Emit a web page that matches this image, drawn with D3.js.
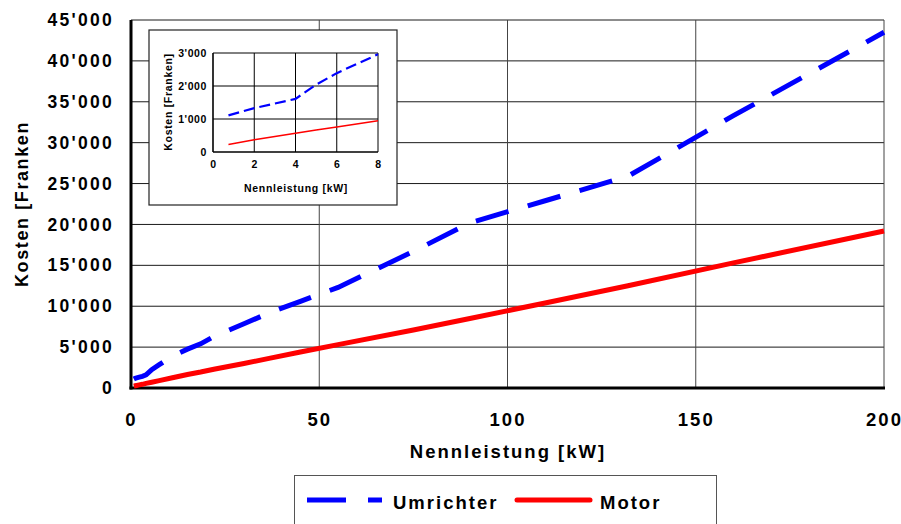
<!DOCTYPE html>
<html>
<head>
<meta charset="utf-8">
<script src="https://cdn.jsdelivr.net/npm/d3@7"></script>
<style>
  body { margin: 0; background: #fff; }
  svg { display: block; }
  text { font-family: "Liberation Sans", Arial, sans-serif; font-weight: bold; fill: #000; }
</style>
</head>
<body>
<div id="chart"></div>
<script>
// Nennleistung [kW] (standard motor sizes)
const leistung = [0.75, 1.1, 1.5, 2.2, 3, 4, 5.5, 7.5, 11, 15, 18.5, 22, 30, 37, 45, 55, 75, 90, 110, 132, 160, 200];
// Kosten [Franken]
const umrichter = [1100, 1180, 1240, 1330, 1430, 1600, 2250, 2850, 3900, 4750, 5400, 6300, 7850, 9250, 10600, 12300, 16700, 20200, 22900, 25900, 33300, 43500];
const motor = [230, 270, 310, 380, 450, 560, 700, 900, 1250, 1650, 1950, 2300, 3000, 3650, 4400, 5300, 7100, 8500, 10400, 12500, 15300, 19200];

// inset (0..8 kW)
const leistungInset = [0.75, 2, 4, 5, 6, 8];
const umrichterInset = [1110, 1330, 1610, 2040, 2390, 2960];
const motorInset = [230, 370, 570, 670, 760, 950];

const xTicks = [0, 50, 100, 150, 200];
const yTicks = [0, 5000, 10000, 15000, 20000, 25000, 30000, 35000, 40000, 45000];
const xTicksInset = [0, 2, 4, 6, 8];
const yTicksInset = [0, 1000, 2000, 3000];

const W = 901, H = 524;
const loc = d3.formatLocale({ decimal: ".", thousands: "'", grouping: [3], currency: ["", ""] });
const fmt = loc.format(",d");

const svg = d3.select("#chart").append("svg").attr("width", W).attr("height", H);

// ---------- main plot ----------
const x = d3.scaleLinear().domain([0, 200]).range([131, 884]);
const y = d3.scaleLinear().domain([0, 45000]).range([388, 20]);

const rows = leistung.map((p, i) => ({ p: p, u: umrichter[i], m: motor[i] }));

// grid
svg.append("g").selectAll("line").data(yTicks.slice(1)).join("line")
  .attr("x1", x(0)).attr("x2", x(200))
  .attr("y1", d => y(d)).attr("y2", d => y(d))
  .attr("stroke", "#1a1a1a").attr("stroke-width", 1);
svg.append("g").selectAll("line").data(xTicks.slice(1)).join("line")
  .attr("x1", d => x(d)).attr("x2", d => x(d))
  .attr("y1", y(0)).attr("y2", y(45000))
  .attr("stroke", "#444").attr("stroke-width", 1);

// axes (labels only, lines drawn thick below)
const yAxis = svg.append("g").attr("transform", `translate(${x(0)},0)`)
  .call(d3.axisLeft(y).tickValues(yTicks).tickFormat(fmt).tickSize(0).tickPadding(17));
yAxis.select(".domain").remove();
yAxis.selectAll("text").attr("font-size", 17.5).attr("letter-spacing", 2.3)
  .attr("font-family", "Liberation Sans, Arial, sans-serif").attr("font-weight", "bold").attr("fill", "#000");

const xAxis = svg.append("g").attr("transform", `translate(0,${y(0)})`)
  .call(d3.axisBottom(x).tickValues(xTicks).tickFormat(d3.format("d")).tickSize(0).tickPadding(25));
xAxis.select(".domain").remove();
xAxis.selectAll("text").attr("font-size", 18.5).attr("letter-spacing", 2)
  .attr("font-family", "Liberation Sans, Arial, sans-serif").attr("font-weight", "bold").attr("fill", "#000");

svg.append("line").attr("x1", x(0)).attr("x2", x(0)).attr("y1", y(45000)).attr("y2", y(0) + 1.5)
  .attr("stroke", "#000").attr("stroke-width", 3);
svg.append("line").attr("x1", x(0) - 1.5).attr("x2", x(200) + 1).attr("y1", y(0)).attr("y2", y(0))
  .attr("stroke", "#000").attr("stroke-width", 3);

svg.append("text").attr("x", 508).attr("y", 458).attr("text-anchor", "middle")
  .attr("font-size", 18.5).attr("letter-spacing", 2).text("Nennleistung [kW]");
svg.append("text").attr("transform", "translate(28,204) rotate(-90)").attr("text-anchor", "middle")
  .attr("font-size", 18).attr("letter-spacing", 1.6).text("Kosten [Franken");

// lines
const lineU = d3.line().x(d => x(d.p)).y(d => y(d.u));
const lineM = d3.line().x(d => x(d.p)).y(d => y(d.m));
svg.append("path").attr("d", lineM(rows)).attr("fill", "none")
  .attr("stroke", "#ff0000").attr("stroke-width", 5);
svg.append("path").attr("d", lineU(rows)).attr("fill", "none")
  .attr("stroke", "#0000ff").attr("stroke-width", 5).attr("stroke-dasharray", "34,20");

// ---------- inset ----------
const inset = svg.append("g");
inset.append("rect").attr("x", 149).attr("y", 30).attr("width", 248).attr("height", 175)
  .attr("fill", "#fff").attr("stroke", "#222").attr("stroke-width", 1.2);

const xi = d3.scaleLinear().domain([0, 8]).range([213, 378]);
const yi = d3.scaleLinear().domain([0, 3000]).range([152, 53]);
const rowsInset = leistungInset.map((p, i) => ({ p: p, u: umrichterInset[i], m: motorInset[i] }));

inset.append("g").selectAll("line").data(yTicksInset).join("line")
  .attr("x1", xi(0)).attr("x2", xi(8)).attr("y1", d => yi(d)).attr("y2", d => yi(d))
  .attr("stroke", "#000").attr("stroke-width", d => d === 0 ? 1.6 : 1);
inset.append("g").selectAll("line").data(xTicksInset).join("line")
  .attr("x1", d => xi(d)).attr("x2", d => xi(d)).attr("y1", yi(0)).attr("y2", yi(3000))
  .attr("stroke", "#000").attr("stroke-width", d => d === 0 ? 1.6 : 1);

const yAxI = inset.append("g").attr("transform", `translate(${xi(0)},0)`)
  .call(d3.axisLeft(yi).tickValues(yTicksInset).tickFormat(fmt).tickSize(0).tickPadding(6));
yAxI.select(".domain").remove();
yAxI.selectAll("text").attr("font-size", 10.5).attr("letter-spacing", 0.6)
  .attr("font-family", "Liberation Sans, Arial, sans-serif").attr("font-weight", "bold").attr("fill", "#000");
const xAxI = inset.append("g").attr("transform", `translate(0,${yi(0)})`)
  .call(d3.axisBottom(xi).tickValues(xTicksInset).tickFormat(d3.format("d")).tickSize(0).tickPadding(9));
xAxI.select(".domain").remove();
xAxI.selectAll("text").attr("font-size", 10.5).attr("letter-spacing", 0.6)
  .attr("font-family", "Liberation Sans, Arial, sans-serif").attr("font-weight", "bold").attr("fill", "#000");

inset.append("text").attr("x", 296).attr("y", 192).attr("text-anchor", "middle")
  .attr("font-size", 10.5).attr("letter-spacing", 0.7).text("Nennleistung [kW]");
inset.append("text").attr("transform", "translate(172,102) rotate(-90)").attr("text-anchor", "middle")
  .attr("font-size", 10.5).attr("letter-spacing", 0.7).text("Kosten [Franken]");

const lineUi = d3.line().x(d => xi(d.p)).y(d => yi(d.u));
const lineMi = d3.line().x(d => xi(d.p)).y(d => yi(d.m));
inset.append("path").attr("d", lineMi(rowsInset)).attr("fill", "none")
  .attr("stroke", "#ff0000").attr("stroke-width", 1.5);
inset.append("path").attr("d", lineUi(rowsInset)).attr("fill", "none")
  .attr("stroke", "#0000ff").attr("stroke-width", 2.2).attr("stroke-dasharray", "11,5");

// ---------- legend ----------
const leg = svg.append("g");
leg.append("rect").attr("x", 294.5).attr("y", 475.5).attr("width", 422).attr("height", 60)
  .attr("fill", "#fff").attr("stroke", "#555").attr("stroke-width", 1);
leg.append("line").attr("x1", 307).attr("x2", 382).attr("y1", 500).attr("y2", 500)
  .attr("stroke", "#0000ff").attr("stroke-width", 5).attr("stroke-dasharray", "39,22");
leg.append("text").attr("x", 393).attr("y", 509).attr("font-size", 18.5).attr("letter-spacing", 2)
  .text("Umrichter");
leg.append("line").attr("x1", 517).attr("x2", 590).attr("y1", 500).attr("y2", 500)
  .attr("stroke", "#ff0000").attr("stroke-width", 5).attr("stroke-linecap", "round");
leg.append("text").attr("x", 600).attr("y", 509).attr("font-size", 18.5).attr("letter-spacing", 2)
  .text("Motor");
</script>
</body>
</html>
